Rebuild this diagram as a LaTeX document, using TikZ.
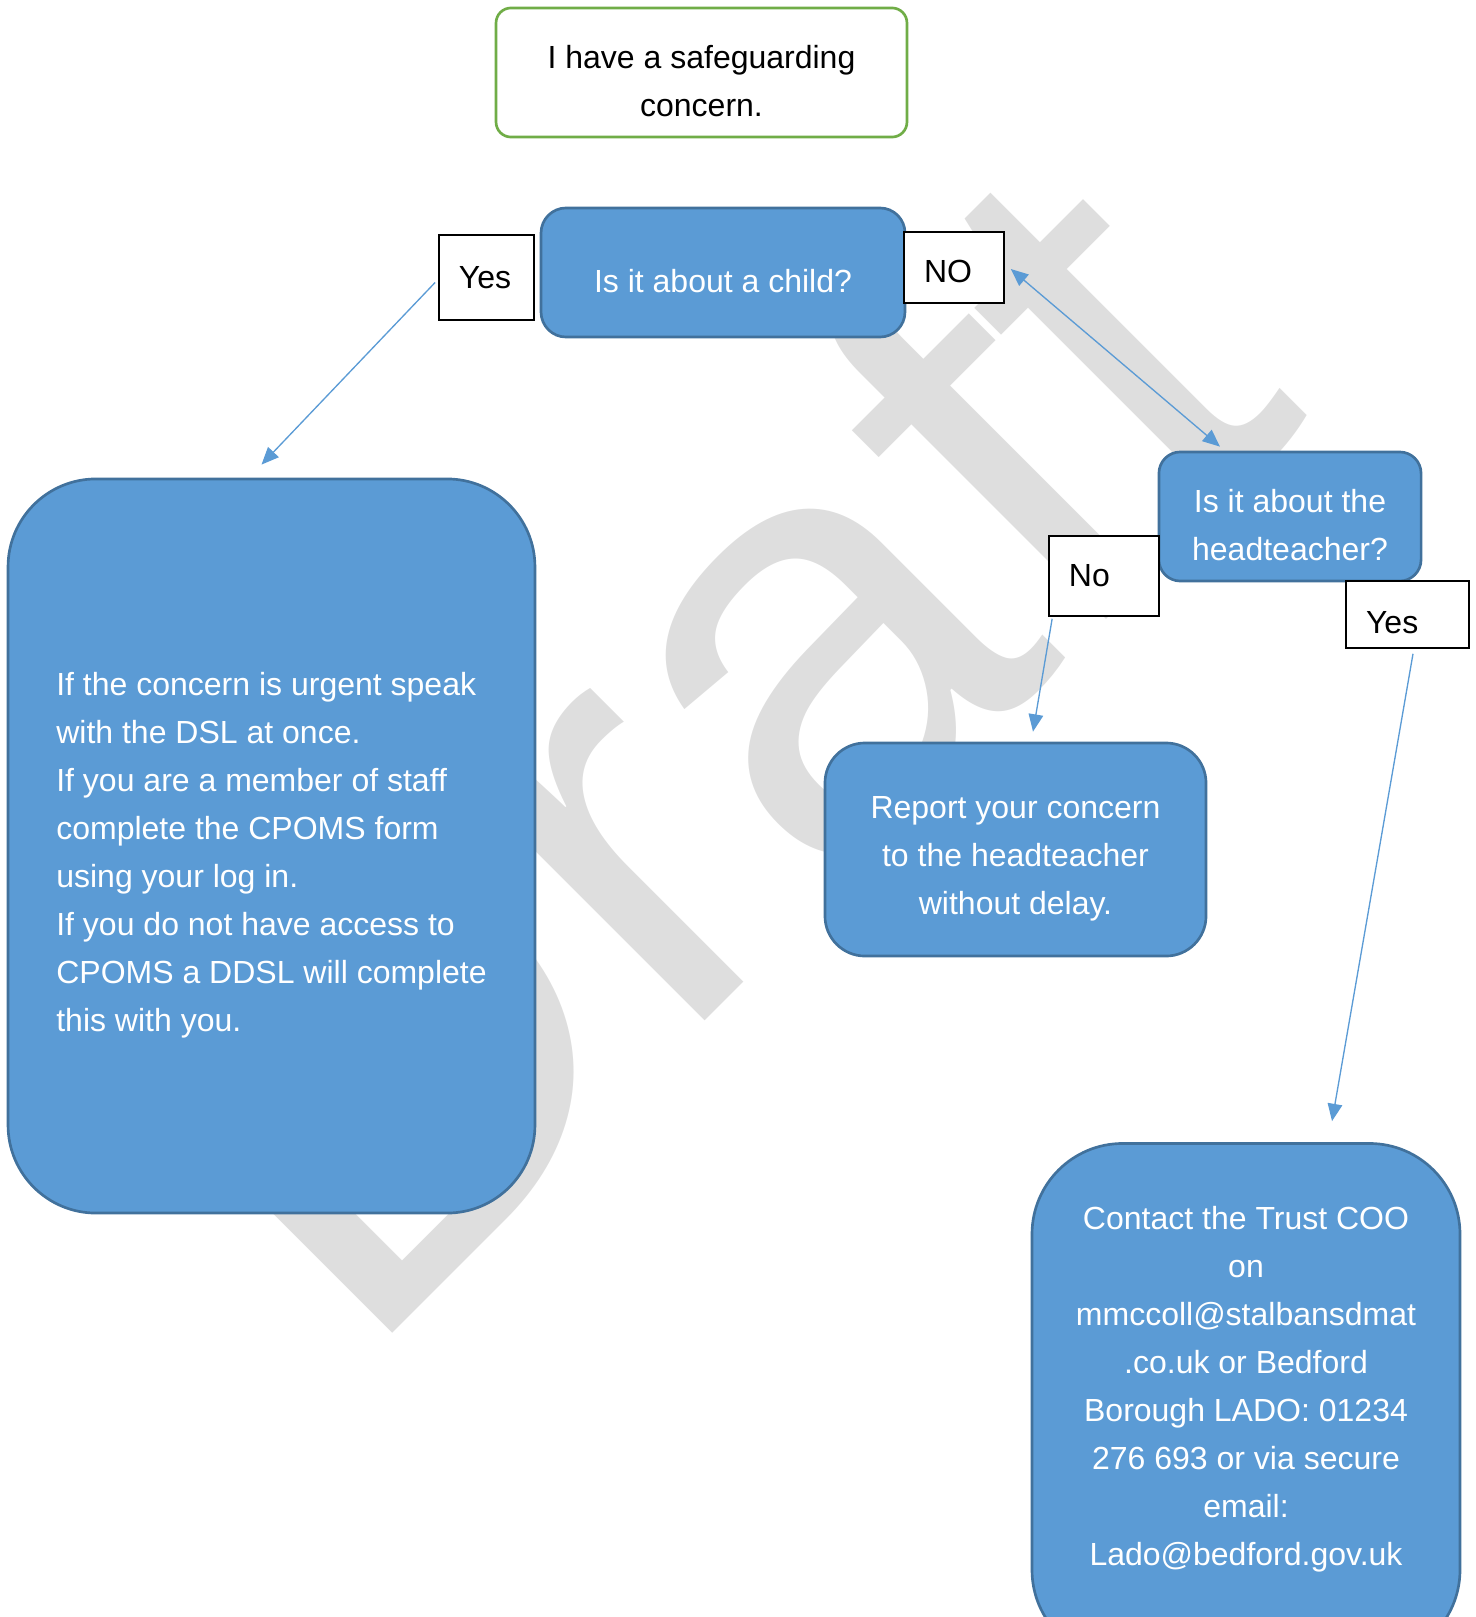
\documentclass[tikz,border=0pt]{standalone}
\usepackage{amsmath}
\usepackage{graphicx}
\usepackage{fontspec}
\setmainfont{Liberation Sans}
\usetikzlibrary{arrows.meta,calc}

\definecolor{boxblue}{HTML}{5B9BD5}
\definecolor{boxline}{HTML}{41719C}
\definecolor{startgreen}{HTML}{70AD47}
\definecolor{wmgray}{HTML}{DEDEDE}

% taller first line, so the text sits a little low in its box
\newcommand{\lift}{\rule{0pt}{15.4pt}}

\begin{document}
\begin{tikzpicture}[x=0.375pt, y=-0.375pt,
    question/.style = {draw=boxline, fill=boxblue, line width=1pt, text=white, align=center},
    answer/.style = {draw=black, fill=white, line width=0.6pt, align=left, inner xsep=7.5pt},
    link/.style = {boxblue, line width=0.5pt, -{Triangle[length=6.5pt,width=5.5pt]}},
    every node/.style = {font=\fontsize{12}{18}\selectfont}]
                \useasboundingbox (0,0) rectangle (1475,1617);
                \clip (0,0) rectangle (1475,1617);
                % watermark
                \node[wmgray, rotate=45, anchor=base west, inner sep=0pt, font=\fontsize{234}{234}\selectfont] (draft) at (356,1370) {\scalebox{1}[0.95]{Draft}};
                % boxes
                \node[draw=startgreen, fill=white, line width=1pt, rounded corners=5.6pt, align=center,
                      minimum width=154.1pt, minimum height=48.4pt] (concern) at (701.5,72.5) {\lift I have a safeguarding\\ concern.};
                \node[question, rounded corners=9.4pt, minimum width=136.5pt, minimum height=48.4pt] (child) at (723,272.5) {\lift Is it about a child?};
                \node[question, rounded corners=33pt, align=left, minimum width=197.6pt,
                      minimum height=275.3pt] (dsl) at (271.5,846) {\lift If the concern is urgent speak\\ with the DSL at once.\\ If you are a member of staff\\ complete the CPOMS form\\ using your log in.\\ If you do not have access to\\ CPOMS a DDSL will complete\\ this with you.};
                \node[question, rounded corners=8pt, minimum width=98.3pt, minimum height=48.4pt] (head) at (1290,516.5) {\lift Is it about the\\ headteacher?};
                \node[question, rounded corners=15pt, minimum width=142.9pt, minimum height=79.9pt] (report) at (1015.5,849.5) {\lift Report your concern\\ to the headteacher\\ without delay.};
                \node[question, rounded corners=34pt, minimum width=160.5pt, minimum height=193.9pt,
                      execute at end node={\rule[-12.3pt]{0pt}{0pt}}] (contact) at (1246,1402) {Contact the Trust COO\\ on\\ mmccoll@stalbansdmat\\ .co.uk or Bedford\\ Borough LADO: 01234\\ 276 693 or via secure\\ email:\\ Lado@bedford.gov.uk};
                % labels
                \node[answer, text width=20.7pt, minimum height=31.9pt] (yesA) at (486.5,277.5) {Yes};
                \node[answer, text width=22.5pt, text height=11.6pt, minimum height=26.6pt] (noA) at (954,267.5) {NO};
                \node[answer, text width=26.3pt, minimum height=30pt] (noB) at (1104,576) {No};
                \node[answer, text width=31.1pt, text height=14pt, minimum height=25.1pt] (yesB) at (1407.5,614.5) {Yes};
                % connector ends
                \coordinate (yesAout) at ($(yesA.west)+(-3,5)$);
                \coordinate (dslIn) at ($(dsl.north)+(-10,-13)$);
                \coordinate (noAout) at ($(noA.east)+(6,1.5)$);
                \coordinate (headIn) at ($(head.north)+(-70,-4)$);
                \coordinate (noBout) at ($(noB.south west)+(4,2)$);
                \coordinate (reportIn) at ($(report.north)+(17.5,-10)$);
                \coordinate (yesBout) at ($(yesB.south)+(5.5,5)$);
                \coordinate (contactIn) at ($(contact.north)+(86,-21)$);
                % arrows
                \draw[link] (yesAout) -- (dslIn);
                \draw[link, {Triangle[length=6.5pt,width=5.5pt]}-{Triangle[length=6.5pt,width=5.5pt]}] (noAout) -- (headIn);
                \draw[link] (noBout) -- (reportIn);
                \draw[link] (yesBout) -- (contactIn);
            \end{tikzpicture}
\end{document}
